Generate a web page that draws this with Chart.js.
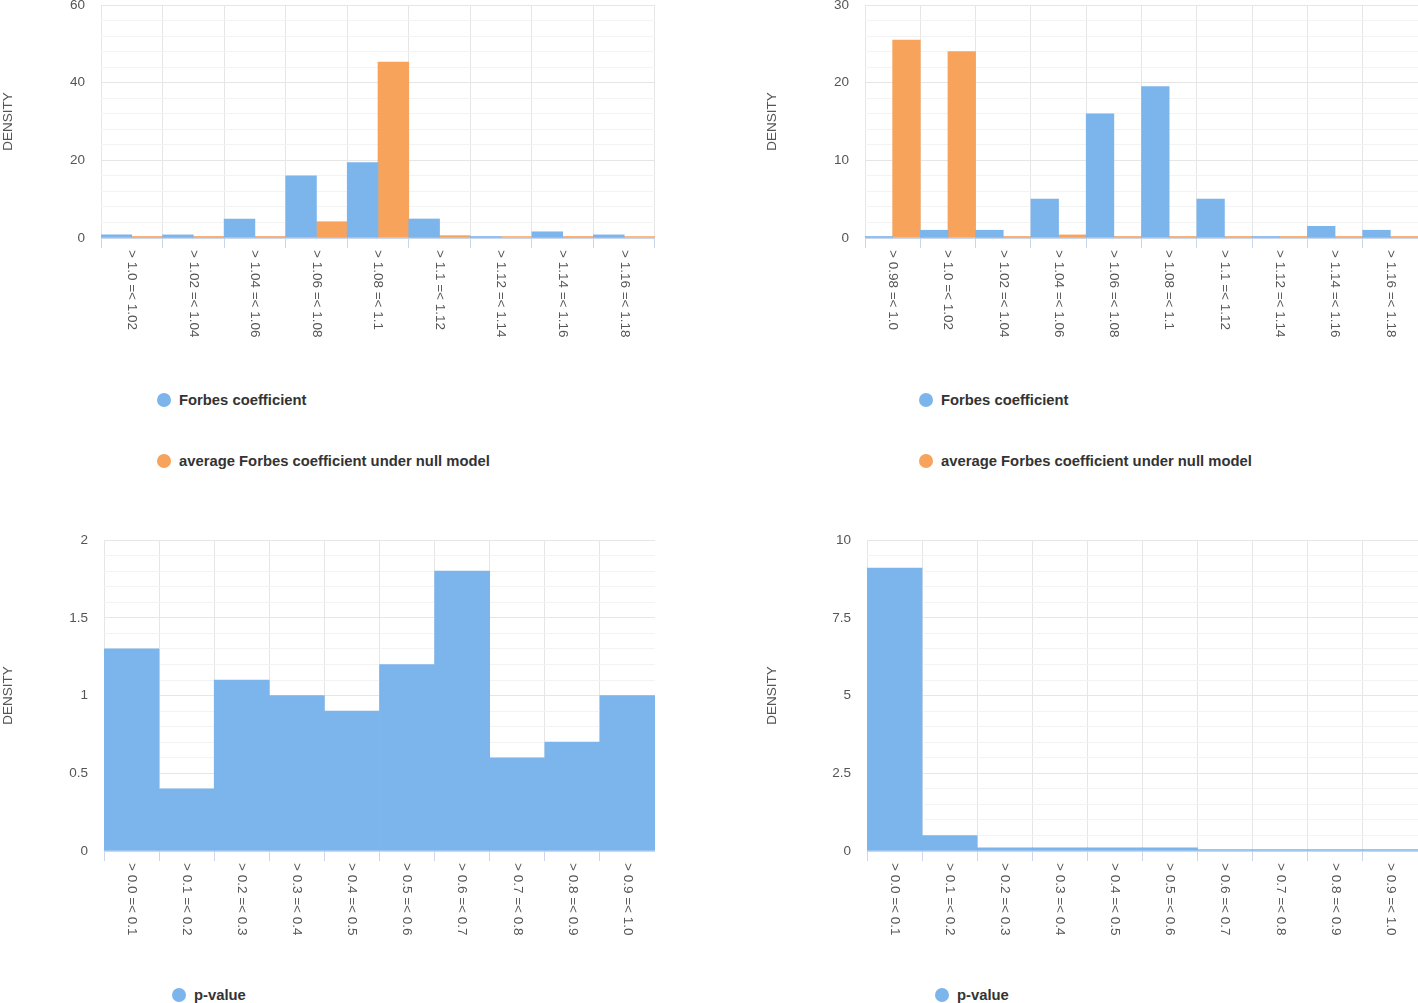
<!DOCTYPE html>
<html>
<head>
<meta charset="utf-8">
<script src="https://cdn.jsdelivr.net/npm/chart.js@4.4.1/dist/chart.umd.min.js"></script>
<style>
  body { margin: 0; background: #fff; width: 1418px; height: 1003px; overflow: hidden; position: relative; font-family: "Liberation Sans", Arial, Helvetica, sans-serif; }
  .box { position: absolute; }
  .leg { position: absolute; display: flex; align-items: center; height: 18px; font-weight: bold; font-size: 14.8px; color: #333; white-space: nowrap; }
  .leg span.dot { width: 14px; height: 14px; border-radius: 50%; margin-right: 8px; display: inline-block; }
</style>
</head>
<body>
<div class="box" style="left:0;top:-3px;width:655px;height:353px"><canvas id="chart1"></canvas></div>
<div class="box" style="left:764px;top:-3px;width:654px;height:353px"><canvas id="chart2"></canvas></div>
<div class="box" style="left:0;top:532px;width:655px;height:431px"><canvas id="chart3"></canvas></div>
<div class="box" style="left:764px;top:532px;width:654px;height:431px"><canvas id="chart4"></canvas></div>
<div id="legend1"></div>
<div id="legend2"></div>
<div id="legend3"></div>
<div id="legend4"></div>

<script>
// categorias (classes dos histogramas)
const binsForbes1 = ['> 1.0 =< 1.02', '> 1.02 =< 1.04', '> 1.04 =< 1.06', '> 1.06 =< 1.08', '> 1.08 =< 1.1',
    '> 1.1 =< 1.12', '> 1.12 =< 1.14', '> 1.14 =< 1.16', '> 1.16 =< 1.18'];
const binsForbes2 = ['> 0.98 =< 1.0', '> 1.0 =< 1.02', '> 1.02 =< 1.04', '> 1.04 =< 1.06', '> 1.06 =< 1.08',
    '> 1.08 =< 1.1', '> 1.1 =< 1.12', '> 1.12 =< 1.14', '> 1.14 =< 1.16', '> 1.16 =< 1.18'];
const binsPValue = ['> 0.0 =< 0.1', '> 0.1 =< 0.2', '> 0.2 =< 0.3', '> 0.3 =< 0.4', '> 0.4 =< 0.5',
    '> 0.5 =< 0.6', '> 0.6 =< 0.7', '> 0.7 =< 0.8', '> 0.8 =< 0.9', '> 0.9 =< 1.0'];

// valores (densidade)
const forbes1 = [0.8, 0.8, 4.9, 16.0, 19.4, 4.9, 0.1, 1.6, 0.8];
const nullModel1 = [0.1, 0.1, 0.1, 4.2, 45.3, 0.6, 0.1, 0.1, 0.1];
const forbes2 = [0.1, 1.0, 1.0, 5.0, 16.0, 19.5, 5.0, 0.1, 1.5, 1.0];
const nullModel2 = [25.5, 24.0, 0.1, 0.4, 0.1, 0.1, 0.1, 0.1, 0.1, 0.1];
const pValue1 = [1.3, 0.4, 1.1, 1.0, 0.9, 1.2, 1.8, 0.6, 0.7, 1.0];
const pValue2 = [9.1, 0.5, 0.1, 0.1, 0.1, 0.1, 0.03, 0.03, 0.03, 0.03];

const azul = '#7cb5ec';
const laranja = '#f7a35c';
const corTexto = '#555555';
const fonte = '"Liberation Sans", Arial, Helvetica, sans-serif';

// rotulos do eixo x lidos de cima para baixo
const rotulosVerticais = {
    id: 'rotulosVerticais',
    afterDraw(chart) {
        const escala = chart.scales.x;
        const ctx = chart.ctx;
        ctx.save();
        ctx.font = '13.5px ' + fonte;
        ctx.fillStyle = corTexto;
        ctx.textAlign = 'left';
        ctx.textBaseline = 'middle';
        chart.data.labels.forEach((rotulo, i) => {
            ctx.save();
            ctx.translate(escala.getPixelForTick(i), escala.top + 12);
            ctx.rotate(Math.PI / 2);
            ctx.fillText(rotulo, 0, 0);
            ctx.restore();
        });
        ctx.restore();
    }
};

function criarGrafico(id, labels, series, yMax, passo, principal, larguraEixo) {
    const ehPrincipal = v => Math.abs(v / principal - Math.round(v / principal)) < 1e-6;

    return new Chart(document.getElementById(id), {
        type: 'bar',
        data: {
            labels: labels,
            datasets: series.map(s => ({
                label: s.nome,
                data: s.dados,
                backgroundColor: s.cor,
                borderWidth: 0,
                barPercentage: 1,
                categoryPercentage: 1,
                minBarLength: 1.5
            }))
        },
        options: {
            responsive: true,
            maintainAspectRatio: false,
            animation: false,
            layout: { padding: 0 },
            plugins: {
                legend: { display: false },
                tooltip: { enabled: false }
            },
            scales: {
                x: {
                    grid: {
                        offset: true,
                        color: '#e6e6e6',
                        tickColor: '#ccd6eb',
                        tickLength: 10,
                        drawTicks: true
                    },
                    border: { display: true, color: '#ccd6eb' },
                    ticks: { display: false },
                    afterFit: s => { s.height = 112; }
                },
                y: {
                    min: 0,
                    max: yMax,
                    border: { display: false },
                    grid: {
                        color: c => ehPrincipal(c.tick.value) ? '#e6e6e6' : '#f3f3f3',
                        tickColor: 'rgba(0,0,0,0)',
                        tickLength: 16,
                        drawTicks: true
                    },
                    ticks: {
                        stepSize: passo,
                        autoSkip: false,
                        padding: 0,
                        color: corTexto,
                        font: { family: fonte, size: 13.5 },
                        callback: v => ehPrincipal(v) ? String(+v.toFixed(3)) : ''
                    },
                    title: {
                        display: true,
                        text: 'DENSITY',
                        color: corTexto,
                        padding: 0,
                        font: { family: fonte, size: 13.5 }
                    },
                    afterFit: s => { s.width = larguraEixo; }
                }
            }
        },
        plugins: [rotulosVerticais]
    });
}

function criarLegenda(idLegenda, grafico, cx, cy) {
    const el = document.getElementById(idLegenda);
    grafico.data.datasets.forEach((ds, i) => {
        const item = document.createElement('div');
        item.className = 'leg';
        item.style.left = (cx - 7) + 'px';
        item.style.top = (cy + i * 61 - 9) + 'px';
        item.innerHTML = '<span class="dot" style="background:' + ds.backgroundColor + '"></span>' + ds.label;
        el.appendChild(item);
    });
}

const g1 = criarGrafico('chart1', binsForbes1, [
    { nome: 'Forbes coefficient', dados: forbes1, cor: azul },
    { nome: 'average Forbes coefficient under null model', dados: nullModel1, cor: laranja }
], 60, 4, 20, 101);

const g2 = criarGrafico('chart2', binsForbes2, [
    { nome: 'Forbes coefficient', dados: forbes2, cor: azul },
    { nome: 'average Forbes coefficient under null model', dados: nullModel2, cor: laranja }
], 30, 2, 10, 101);

const g3 = criarGrafico('chart3', binsPValue, [
    { nome: 'p-value', dados: pValue1, cor: azul }
], 2, 0.1, 0.5, 104);

const g4 = criarGrafico('chart4', binsPValue, [
    { nome: 'p-value', dados: pValue2, cor: azul }
], 10, 0.5, 2.5, 103);

criarLegenda('legend1', g1, 164, 400);
criarLegenda('legend2', g2, 926, 400);
criarLegenda('legend3', g3, 179, 995);
criarLegenda('legend4', g4, 942, 995);
</script>
</body>
</html>
